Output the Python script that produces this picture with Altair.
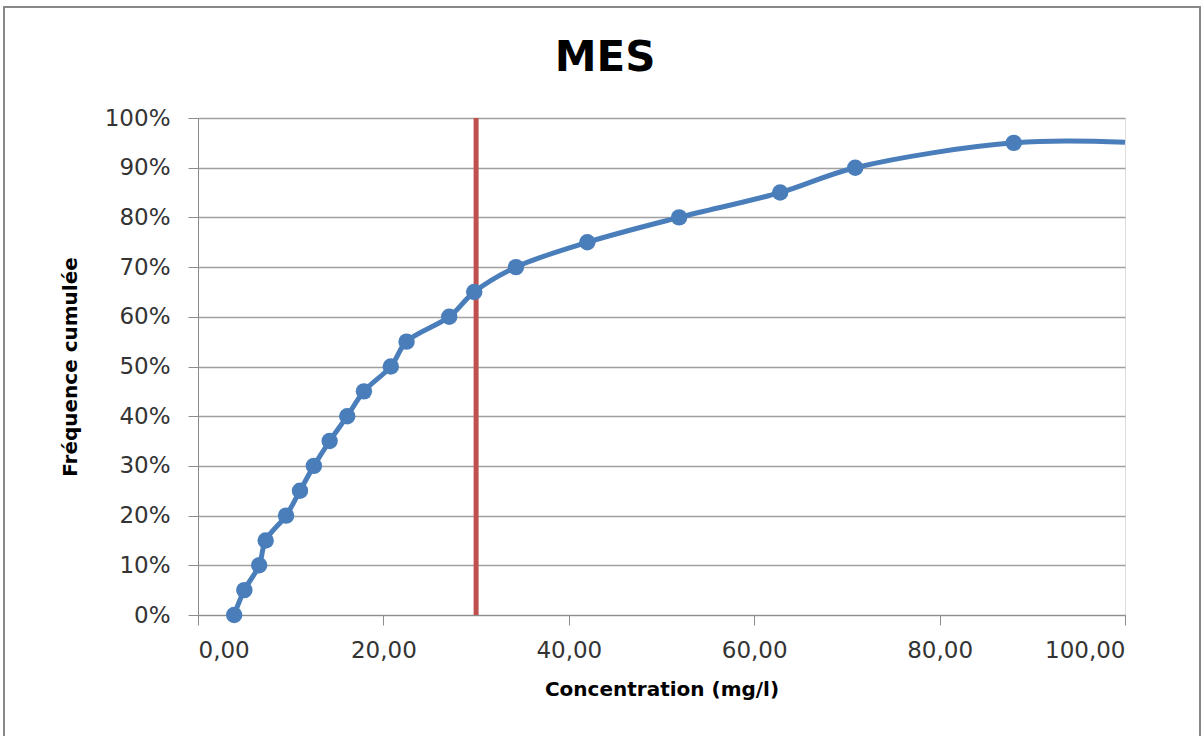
import altair as alt
import pandas as pd

# Cumulative frequency of suspended matter (MES) concentrations
concentration = [3.9, 5.0, 6.6, 7.3, 9.5, 11.0, 12.5, 14.2, 16.1, 17.9, 20.8,
                 22.5, 27.1, 29.8, 34.3, 42.0, 51.9, 62.8, 70.9, 88.0]
frequency = [0.00, 0.05, 0.10, 0.15, 0.20, 0.25, 0.30, 0.35, 0.40, 0.45, 0.50,
             0.55, 0.60, 0.65, 0.70, 0.75, 0.80, 0.85, 0.90, 0.95]
# curve continues flat to the edge of the axis
tail_concentration = [100.0]
tail_frequency = [0.951]
threshold = [30.0]
chart_title = ["MES"]

points = pd.DataFrame({"c": concentration, "f": frequency})
curve = pd.DataFrame({"c": concentration + tail_concentration,
                      "f": frequency + tail_frequency})
limit = pd.DataFrame({"c": threshold})
heading = pd.DataFrame({"t": chart_title})

FONT = "DejaVu Sans"
BLUE = "#4A7EBB"
RED = "#C0504D"

x_scale = alt.Scale(domain=[0, 100], nice=False, zero=False)
y_scale = alt.Scale(domain=[0, 1], nice=False)

x_axis = alt.Axis(
    title="Concentration (mg/l)", values=[0, 20, 40, 60, 80, 100],
    labelExpr="replace(format(datum.value, '.2f'), '.', ',')",
    grid=False, tickSize=10, tickColor="#8C8C8C", domainColor="#8C8C8C",
    labelFont=FONT, labelFontSize=23, labelColor="#333333", labelPadding=14,
    titleFont=FONT, titleFontSize=20, titleFontWeight="bold", titleColor="#000000",
    titlePadding=17,
)
y_axis = alt.Axis(
    title="Fréquence cumulée", values=[i / 10 for i in range(11)], format=".0%",
    grid=True, gridColor="#A0A0A0", gridWidth=1.4, tickSize=10, tickColor="#8C8C8C",
    domainColor="#8C8C8C",
    labelFont=FONT, labelFontSize=23, labelColor="#333333", labelPadding=18,
    titleFont=FONT, titleFontSize=20, titleFontWeight="bold", titleColor="#000000",
    titlePadding=24,
)

line = alt.Chart(curve).mark_line(
    color=BLUE, strokeWidth=5, interpolate="catmull-rom"
).encode(
    x=alt.X("c:Q", scale=x_scale, axis=x_axis),
    y=alt.Y("f:Q", scale=y_scale, axis=y_axis),
)

dots = alt.Chart(points).mark_point(
    filled=True, color=BLUE, size=270, opacity=1
).encode(x=alt.X("c:Q", scale=x_scale), y=alt.Y("f:Q", scale=y_scale))

rule = alt.Chart(limit).mark_rule(color=RED, strokeWidth=5).encode(
    x=alt.X("c:Q", scale=x_scale)
)

# chart heading, centred above the plot
title = alt.Chart(heading).mark_text(
    font=FONT, fontSize=42, fontWeight="bold", color="#000000",
    align="center", baseline="middle", clip=False
).encode(text="t:N", x=alt.value(407), y=alt.value(-60))

# outer frame around the whole chart
frame = alt.Chart(limit).mark_rect(
    fill=None, stroke="#888888", strokeWidth=2, clip=False
).encode(
    x=alt.value(-194), x2=alt.value(1002), y=alt.value(-111), y2=alt.value(640)
)

chart = alt.layer(rule, line, dots, title, frame).properties(
    width=927, height=497,
    autosize=alt.AutoSizeParams(type="none"),
    padding={"left": 198, "top": 118, "right": 79, "bottom": 121},
).configure_view(stroke=None).configure(background="white")

chart.save("out.html", embed_options={"renderer": "svg", "actions": False})
